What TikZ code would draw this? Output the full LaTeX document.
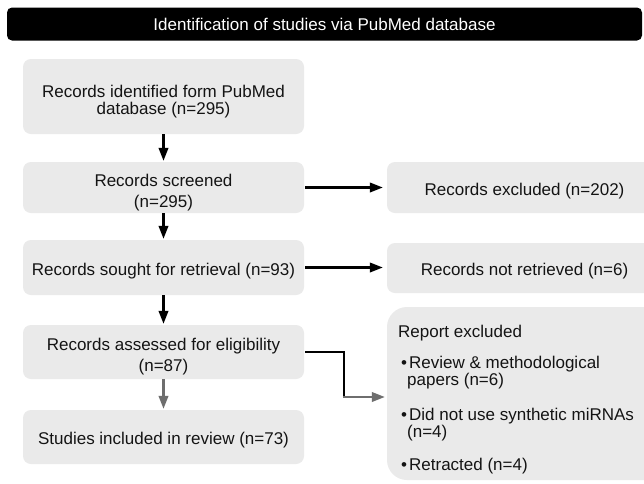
\documentclass[tikz,border=0pt]{standalone}
\usepackage{fontspec}
\setmainfont{Liberation Sans}
\usetikzlibrary{arrows.meta}
\definecolor{boxgray}{RGB}{234,234,234}
\definecolor{txt}{RGB}{20,20,20}
\definecolor{arrgray}{RGB}{110,110,110}
\begin{document}
\begin{tikzpicture}[x=1pt,y=-1pt,
  box/.style={fill=boxgray, rounded corners=8pt, minimum width=281pt, align=center,
    text=txt, inner sep=0pt, font=\fontsize{17}{21}\selectfont},
  oneline/.style={text height=19.5pt, text depth=4pt},
  twoline/.style={text height=43.4pt, text depth=3.6pt},
  rbox/.style={box, oneline, minimum width=275pt},
  arr/.style={line width=2.2pt, -{Triangle[length=13pt,width=9.5pt]}},
  garr/.style={arr, draw=arrgray, color=arrgray},
]
\clip (0,0) rectangle (644,483);
\fill[white] (0,0) rectangle (644,483);

\node[fill=black, rounded corners=5pt, minimum width=635pt, minimum height=33pt,
  text=white, inner sep=0pt, font=\fontsize{17}{21}\selectfont] (title) at (324.5,24)
  {Identification of studies via PubMed database};

\node[box, minimum height=75pt, font=\fontsize{17}{17}\selectfont,
  text height=39.4pt, text depth=3.6pt] (b1) at (163.5,96.5)
  {Records identified form PubMed\\database (n=295)};
\node[box, twoline, minimum height=51pt] (b2) at (163.5,187.5) {Records screened\\(n=295)};
\node[box, oneline, minimum height=55pt] (b3) at (163.5,267.5) {Records sought for retrieval (n=93)};
\node[box, twoline, minimum height=54pt] (b4) at (163.5,352) {Records assessed for eligibility\\(n=87)};
\node[box, oneline, minimum height=54pt] (b5) at (163.5,437) {Studies included in review (n=73)};

\node[rbox, minimum height=51pt] (ex1) at (524.5,187.5) {Records excluded (n=202)};
\node[rbox, minimum height=50pt] (ex2) at (524.5,268) {Records not retrieved (n=6)};

\node[fill=boxgray, rounded corners=20pt, minimum width=290pt, minimum height=173pt,
  inner sep=0pt] (rep) at (532,393.5) {};
\node[anchor=north west, align=left, inner sep=0pt, text=txt,
  font=\fontsize{17}{17}\selectfont] (rtext) at (398,324.5)
  {Report excluded\\[14pt]
   \hspace*{3pt}\textbullet\hspace{2pt}Review \& methodological\\
   \hspace*{9pt}papers (n=6)\\[18pt]
   \hspace*{3pt}\textbullet\hspace{2pt}Did not use synthetic miRNAs\\
   \hspace*{9pt}(n=4)\\[16pt]
   \hspace*{3pt}\textbullet\hspace{2pt}Retracted (n=4)};

\draw[arr, shorten >=1pt] (b1) -- (b2);
\draw[arr, shorten >=1pt] (b2) -- (b3);
\draw[arr, shorten >=1pt] (b3) -- (b4);
\draw[garr, shorten >=1pt] (b4) -- (b5);
\draw[arr, shorten >=4pt, shorten <=1pt] (b2) -- (ex1);
\draw[arr, shorten >=4pt, shorten <=1pt] (b3.east) -- (b3.east -| ex2.west);

\coordinate (bend) at (344,397);
\draw[line width=2.2pt] ([xshift=1pt]b4.east) -| (bend);
\draw[garr, shorten >=2pt] ([xshift=-1.1pt]bend) -- (bend -| rep.west);
\end{tikzpicture}
\end{document}
